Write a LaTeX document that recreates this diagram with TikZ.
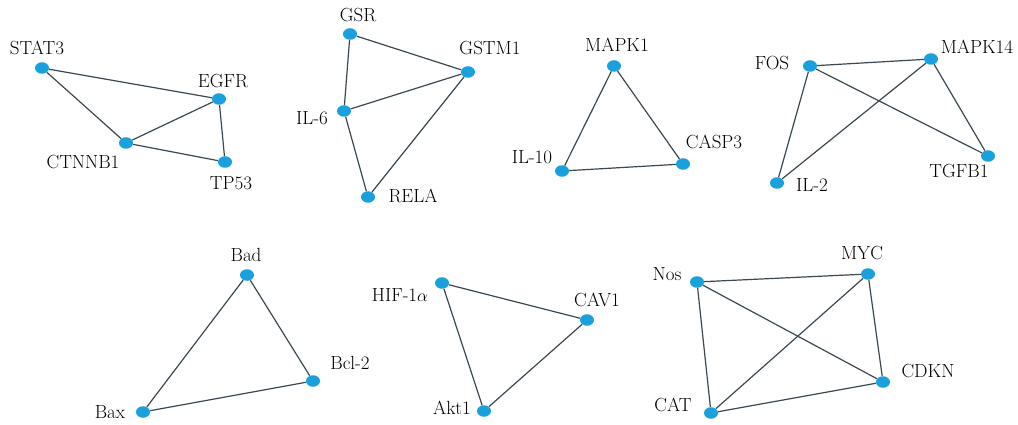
\documentclass[tikz,border=0pt]{standalone}
\usetikzlibrary{shapes.geometric}
\definecolor{dotblue}{HTML}{1AA0DC}
\definecolor{edgegray}{HTML}{3A4852}
\begin{document}
\begin{tikzpicture}[x=1pt,y=-1pt,
  gene/.style={ellipse, fill=dotblue, minimum width=14pt, minimum height=11.5pt, inner sep=0pt},
  lab/.style={font=\fontsize{19}{22}\selectfont, text=black, inner sep=0pt},
  edge/.style={draw=edgegray, line width=1.2pt}]
\useasboundingbox (0,0) rectangle (1018,425);
% group 1
\node[gene] (stat3) at (42,68) {};
\node[gene] (egfr) at (219,99) {};
\node[gene] (ctnnb1) at (126,143) {};
\node[gene] (tp53) at (225,162) {};
\node[lab] (lstat3) at (37,48) {STAT3};
\node[lab] (legfr) at (223,81) {EGFR};
\node[lab] (lctnnb1) at (83,162) {CTNNB1};
\node[lab] (ltp53) at (231,183) {TP53};
% group 2
\node[gene] (gsr) at (350,34) {};
\node[gene] (gstm1) at (468,72) {};
\node[gene] (il6) at (344,111) {};
\node[gene] (rela) at (368,197) {};
\node[lab] (lgsr) at (358,15) {GSR};
\node[lab] (lgstm1) at (490,48) {GSTM1};
\node[lab] (lil6) at (312,118) {IL-6};
\node[lab] (lrela) at (413,196) {RELA};
% group 3
\node[gene] (mapk1) at (614,66) {};
\node[gene] (il10) at (562,171) {};
\node[gene] (casp3) at (683,164) {};
\node[lab] (lmapk1) at (617,45) {MAPK1};
\node[lab] (lil10) at (532,157) {IL-10};
\node[lab] (lcasp3) at (714,142) {CASP3};
% group 4
\node[gene] (fos) at (810,66) {};
\node[gene] (mapk14) at (931,59) {};
\node[gene] (tgfb1) at (988,156) {};
\node[gene] (il2) at (777,183) {};
\node[lab] (lfos) at (772,63) {FOS};
\node[lab] (lmapk14) at (977,47) {MAPK14};
\node[lab] (ltgfb1) at (959,171) {TGFB1};
\node[lab] (lil2) at (812,185) {IL-2};
% group 5
\node[gene] (bad) at (247,275) {};
\node[gene] (bcl2) at (313,381) {};
\node[gene] (bax) at (143,412) {};
\node[lab] (lbad) at (246,255) {Bad};
\node[lab] (lbcl2) at (350,363) {Bcl-2};
\node[lab] (lbax) at (110,412) {Bax};
% group 6
\node[gene] (hif) at (442,283) {};
\node[gene] (cav1) at (587,320) {};
\node[gene] (akt1) at (484,411) {};
\node[lab] (lhif) at (400,295) {HIF-1$\alpha$};
\node[lab] (lcav1) at (597,300) {CAV1};
\node[lab] (lakt1) at (452,408) {Akt1};
% group 7
\node[gene] (nos) at (697,282) {};
\node[gene] (myc) at (868,274) {};
\node[gene] (cdkn) at (883,382) {};
\node[gene] (cat) at (711,413) {};
\node[lab] (lnos) at (667,274) {Nos};
\node[lab] (lmyc) at (862,253) {MYC};
\node[lab] (lcdkn) at (928,371) {CDKN};
\node[lab] (lcat) at (673,405) {CAT};
% edges
\draw[edge] (stat3) -- (egfr);
\draw[edge] (stat3) -- (ctnnb1);
\draw[edge] (ctnnb1) -- (egfr);
\draw[edge] (ctnnb1) -- (tp53);
\draw[edge] (egfr) -- (tp53);
\draw[edge] (gsr) -- (gstm1);
\draw[edge] (gsr) -- (il6);
\draw[edge] (il6) -- (gstm1);
\draw[edge] (il6) -- (rela);
\draw[edge] (rela) -- (gstm1);
\draw[edge] (mapk1) -- (il10);
\draw[edge] (mapk1) -- (casp3);
\draw[edge] (il10) -- (casp3);
\draw[edge] (fos) -- (mapk14);
\draw[edge] (fos) -- (tgfb1);
\draw[edge] (fos) -- (il2);
\draw[edge] (mapk14) -- (tgfb1);
\draw[edge] (mapk14) -- (il2);
\draw[edge] (bad) -- (bcl2);
\draw[edge] (bad) -- (bax);
\draw[edge] (bax) -- (bcl2);
\draw[edge] (hif) -- (cav1);
\draw[edge] (hif) -- (akt1);
\draw[edge] (akt1) -- (cav1);
\draw[edge] (nos) -- (myc);
\draw[edge] (nos) -- (cdkn);
\draw[edge] (nos) -- (cat);
\draw[edge] (myc) -- (cat);
\draw[edge] (myc) -- (cdkn);
\draw[edge] (cat) -- (cdkn);
\end{tikzpicture}
\end{document}
